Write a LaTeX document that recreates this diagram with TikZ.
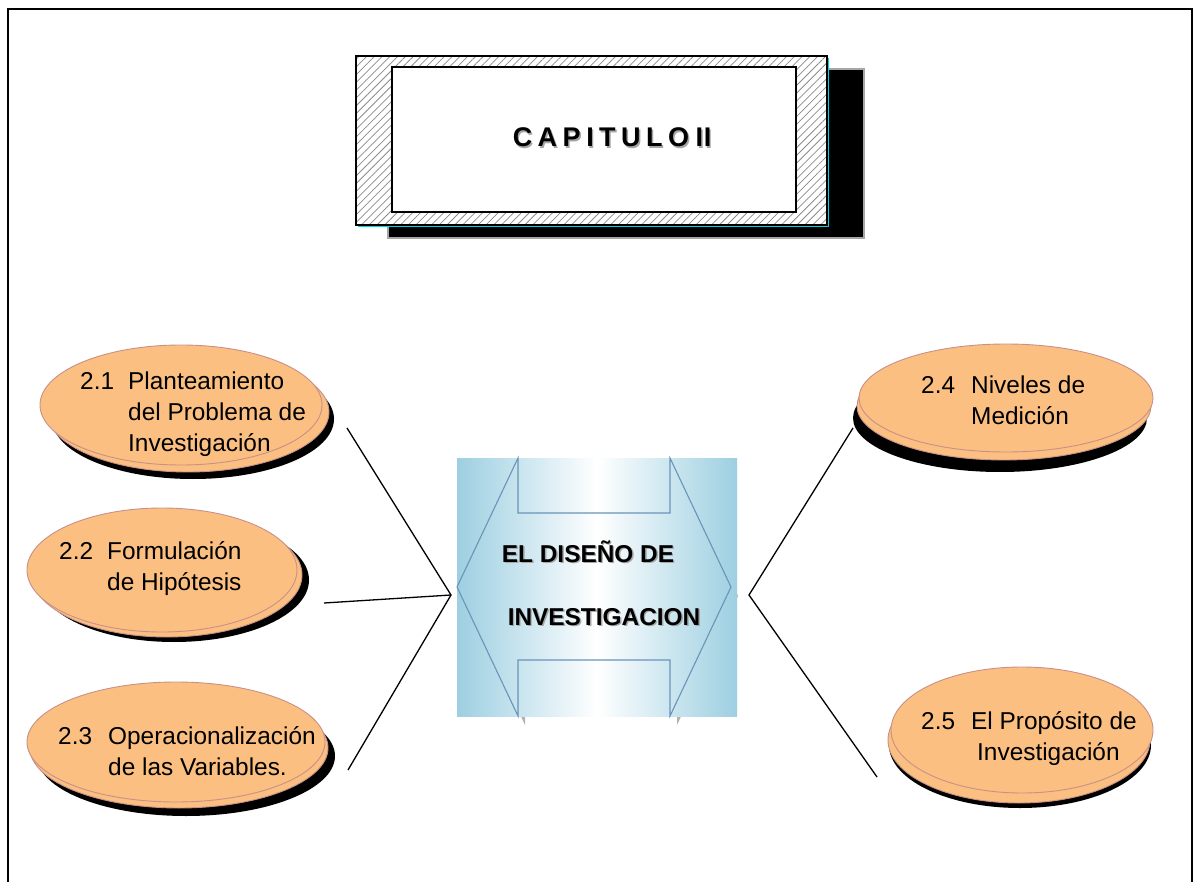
\documentclass[tikz,border=0pt]{standalone}
\usepackage{fontspec}
\setmainfont{Liberation Sans}
\usetikzlibrary{patterns.meta,shapes.geometric}
\definecolor{orangefill}{HTML}{FBBF82}
\definecolor{orangeedge}{HTML}{C89088}
\definecolor{lblue}{HTML}{9DCFE1}
\definecolor{arrowedge}{HTML}{6A94B8}
\definecolor{cyanedge}{HTML}{00D4E4}
\newcommand\shtext[1]{\makebox[0pt][l]{\hspace{1.4pt}\raisebox{-1.4pt}{\textcolor{black!35}{#1}}}#1}
\newcommand\inum[2][48pt]{\makebox[#1][l]{#2}}
\newcommand\lsp{\hspace{5.5pt}}
\begin{document}
\begin{tikzpicture}[x=1pt,y=-1pt,
  ellfront/.style={ellipse, draw=orangeedge, fill=orangefill, line width=0.9pt, inner sep=0pt},
  ellback/.style={draw=orangeedge, fill=orangefill, line width=0.9pt},
  ellshadow/.style={fill=black},
  etext/.style={anchor=west, inner sep=0pt, font=\fontsize{24.4}{31}\selectfont, align=left},
  ctext/.style={anchor=base, inner sep=0pt, font=\fontsize{24.4}{29}\selectfont\bfseries},
  conn/.style={line width=1.3pt, black}]
\useasboundingbox (0,0) rectangle (1194,882);
% frame
\draw[line width=1.6pt] (8,882) -- (8,9) -- (1192,9) -- (1192,882);
% title box
\draw[fill=black, draw=black!35, line width=1.5pt] (388,69) rectangle (864,238);
\fill[cyanedge] (358,58) rectangle (829,227);
\fill[white] (356,56) rectangle (827,225);
\path[pattern={Lines[angle=45,distance=5.5pt,line width=0.75pt]}, pattern color=black!45] (356,56) rectangle (827,225);
\draw[line width=1.6pt] (356,56) rectangle (827,225);
\draw[line width=2pt, fill=white] (392,67) rectangle (796,212);
\node[anchor=base, inner sep=0pt, font=\fontsize{27}{30}\selectfont\bfseries] (title) at (612,147)
  {\shtext{C\lsp A\lsp P\lsp I\lsp T\lsp U\lsp L\lsp O\lsp\hspace{1pt}I\hspace{0.5pt}I}};
% ellipse 2.1
\fill[ellshadow] (193,419) ellipse [x radius=141pt, y radius=60pt];
\draw[ellback] (188,412) ellipse [x radius=141pt, y radius=60pt];
\node[ellfront, minimum width=282pt, minimum height=120pt] (e1) at (181,405) {};
\node[etext] (t1) at (80,414.5) {\inum{2.1}Planteamiento\\\inum{}del Problema de\\\inum{}Investigación};
% ellipse 2.2
\fill[ellshadow] (174,580) ellipse [x radius=135pt, y radius=62pt];
\draw[ellback] (167,575) ellipse [x radius=135pt, y radius=62pt];
\node[ellfront, minimum width=270pt, minimum height=124pt] (e2) at (162,570) {};
\node[etext] (t2) at (59,568.5) {\inum{2.2}Formulación\\\inum{}de Hipótesis};
% ellipse 2.3
\fill[ellshadow] (186,756) ellipse [x radius=149pt, y radius=60pt];
\draw[ellback] (179,748) ellipse [x radius=149pt, y radius=60pt];
\node[ellfront, minimum width=298pt, minimum height=120pt] (e3) at (176,742) {};
\node[etext] (t3) at (58,751) {\inum[50pt]{2.3}Operacionalización\\\inum[50pt]{}de las Variables.};
% ellipse 2.4
\fill[ellshadow] (1000,418) ellipse [x radius=147pt, y radius=54pt];
\draw[ellback] (1004,406) ellipse [x radius=147pt, y radius=54pt];
\node[ellfront, minimum width=294pt, minimum height=108pt] (e4) at (1006,398) {};
\node[etext] (t4) at (921,400) {\inum[50pt]{2.4}Niveles de\\\inum[50pt]{}Medición};
% ellipse 2.5
\fill[ellshadow] (1020,745) ellipse [x radius=131pt, y radius=63pt];
\draw[ellback] (1019,740) ellipse [x radius=131pt, y radius=63pt];
\node[ellfront, minimum width=262pt, minimum height=126pt] (e5) at (1022,730) {};
\node[etext] (t5) at (921,739) {\inum[50pt]{2.5}El Propósito de\\\inum[56pt]{}Investigación};
% central double arrow
\fill[black!30, shift={(7,9)}] (457,587) -- (518,458) -- (518,513) -- (670,513) -- (670,458) -- (731,587) -- (670,716) -- (670,660) -- (518,660) -- (518,716) -- cycle;
\node[rectangle, left color=lblue, right color=lblue, middle color=white, minimum width=280pt, minimum height=258pt, inner sep=0pt] (core) at (597,587) {};
\draw[arrowedge, line width=1.1pt] (457,587) -- (518,458) -- (518,513) -- (670,513) -- (670,458) -- (731,587) -- (670,716) -- (670,660) -- (518,660) -- (518,716) -- cycle;
\node[ctext] (c1) at (588,562) {\shtext{EL DISEÑO DE}};
\node[ctext] (c2) at (604,625) {\shtext{INVESTIGACION}};
% connectors
\coordinate (L) at (451,595);
\coordinate (R) at (749,595);
\coordinate (l1) at (347,428);
\coordinate (l2) at (324,603);
\coordinate (l3) at (348,770);
\coordinate (r1) at (853,428);
\coordinate (r2) at (877,777);
\draw[conn] (l1) -- (L) -- (l3);
\draw[conn] (l2) -- (L);
\draw[conn] (r1) -- (R) -- (r2);
\end{tikzpicture}
\end{document}
